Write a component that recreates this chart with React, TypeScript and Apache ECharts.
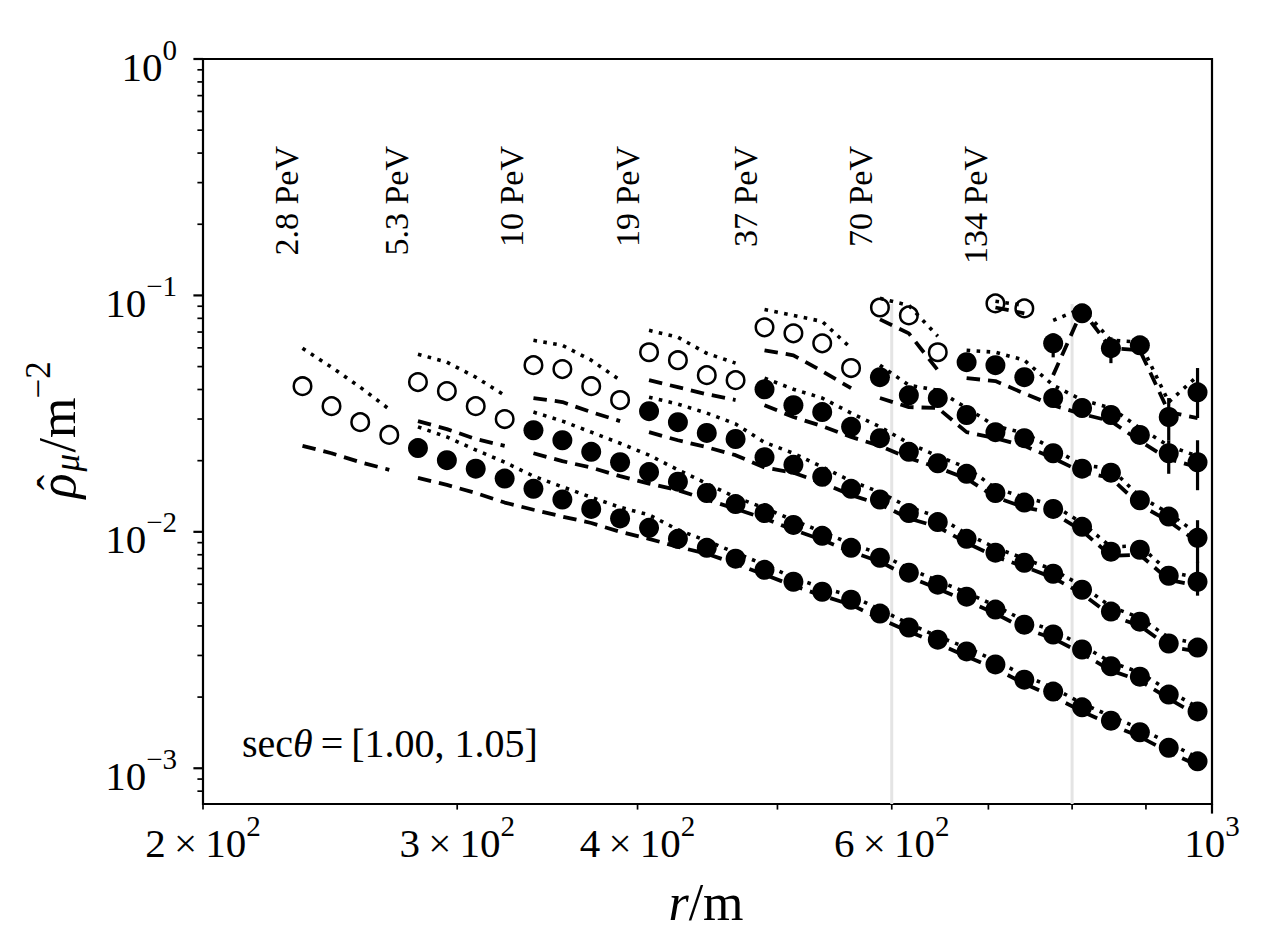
import React, { useEffect, useRef } from "react";
import * as echarts from "echarts";

// radial bin centres r [m]
const R = [
  234.4, 245.5, 257.0, 269.2, 281.8, 295.1, 309.0, 323.6, 338.8, 354.8, 371.5, 389.0, 407.4, 426.6, 446.7, 467.7,
  489.8, 512.9, 537.0, 562.3, 588.8, 616.6, 645.7, 676.1, 707.9, 741.3, 776.2, 812.8, 851.1, 891.3, 933.3, 977.2,
];

const ENERGY_LABELS = ["2.8 PeV", "5.3 PeV", "10 PeV", "19 PeV", "37 PeV", "70 PeV", "134 PeV"];
const LABEL_R = [228.6, 272.4, 327.3, 393.9, 474.9, 570.5, 685.4];
const START_IDX = [0, 4, 8, 12, 16, 20, 24];
const N_OPEN = [4, 4, 4, 4, 4, 3, 2];

// 2.8 PeV
const RHO_2P8 = [0.0413, 0.034, 0.0291, 0.0257, 0.0226, 0.0201, 0.0185, 0.0168, 0.0152, 0.0137, 0.0125, 0.0114, 0.0104, 0.00934, 0.00856, 0.0077, 0.00691, 0.00615, 0.00558, 0.00516, 0.00451, 0.00394, 0.0035, 0.00312, 0.00275, 0.00237, 0.00211, 0.00181, 0.00159, 0.00142, 0.00122, 0.00107];
const DOT_2P8 = [0.0598, 0.0497, 0.0409, 0.033, 0.0278, 0.0252, 0.0222, 0.0197, 0.0172, 0.0155, 0.014, 0.0127, 0.0118, 0.0102, 0.00916, 0.00816, 0.00726, 0.0064, 0.0058, 0.00537, 0.00469, 0.00409, 0.00361, 0.00324, 0.00285, 0.00247, 0.00219, 0.00188, 0.00166, 0.00147, 0.00128, 0.00111];
const DASH_2P8 = [0.0231, 0.0215, 0.0197, 0.0183, 0.0169, 0.0158, 0.0146, 0.0133, 0.0124, 0.0116, 0.0109, 0.01, 0.00934, 0.00864, 0.00808, 0.00733, 0.00659, 0.00592, 0.00537, 0.00492, 0.00429, 0.00379, 0.00337, 0.00297, 0.00264, 0.00228, 0.00201, 0.00174, 0.00153, 0.00136, 0.00117, 0.00103];
// 5.3 PeV
const RHO_5P3 = [0.043, 0.0394, 0.034, 0.03, 0.0269, 0.0244, 0.0218, 0.0197, 0.0179, 0.0163, 0.0146, 0.0131, 0.012, 0.0107, 0.00962, 0.00856, 0.00777, 0.00672, 0.00598, 0.00532, 0.00469, 0.00405, 0.00368, 0.00318, 0.0027, 0.00244, 0.00205, 0.00174];
const DOT_5P3 = [0.0564, 0.0522, 0.0451, 0.0378, 0.0321, 0.0294, 0.0264, 0.0237, 0.0211, 0.0183, 0.016, 0.014, 0.0126, 0.0112, 0.01, 0.0089, 0.00808, 0.00698, 0.00621, 0.00553, 0.00487, 0.00421, 0.00382, 0.00331, 0.00281, 0.00254, 0.00213, 0.00181];
const DASH_5P3 = [0.0294, 0.0272, 0.0247, 0.0231, 0.0215, 0.0199, 0.0187, 0.0172, 0.016, 0.015, 0.0137, 0.0125, 0.0114, 0.0102, 0.00925, 0.00824, 0.00748, 0.00646, 0.00575, 0.00511, 0.00451, 0.0039, 0.00354, 0.00306, 0.00259, 0.00235, 0.00197, 0.00167];
// 10 PeV
const RHO_10 = [0.0507, 0.0488, 0.0413, 0.0361, 0.0324, 0.0291, 0.0262, 0.0247, 0.0207, 0.0192, 0.0171, 0.0152, 0.0137, 0.012, 0.011, 0.00934, 0.00816, 0.0074, 0.00665, 0.00569, 0.0046, 0.00417, 0.00337, 0.00324];
const DOT_10 = [0.0646, 0.0615, 0.0532, 0.0438, 0.0371, 0.0347, 0.0318, 0.0286, 0.0239, 0.0215, 0.0188, 0.0164, 0.0147, 0.0127, 0.0116, 0.00981, 0.00856, 0.0077, 0.00691, 0.00592, 0.00482, 0.00433, 0.00357, 0.00337];
const DASH_10 = [0.0368, 0.0354, 0.0321, 0.0294, 0.0264, 0.0244, 0.0228, 0.0211, 0.0187, 0.0178, 0.0161, 0.0143, 0.0131, 0.0114, 0.0105, 0.00899, 0.00785, 0.00712, 0.0064, 0.00548, 0.00442, 0.00401, 0.00327, 0.00312];
// 19 PeV
const RHO_19 = [0.0575, 0.0532, 0.046, 0.0438, 0.0401, 0.0343, 0.0321, 0.0278, 0.0249, 0.0218, 0.0195, 0.0176, 0.0146, 0.0133, 0.0125, 0.0105, 0.00824, 0.0084, 0.00652, 0.00615];
const DOT_19 = [0.0712, 0.0665, 0.0569, 0.0517, 0.0447, 0.0401, 0.0368, 0.0318, 0.0278, 0.0237, 0.0209, 0.0187, 0.0153, 0.014, 0.013, 0.0109, 0.00864, 0.00873, 0.00678, 0.0064];
const DASH_19 = [0.0438, 0.0409, 0.0382, 0.0361, 0.0343, 0.0306, 0.028, 0.0252, 0.0231, 0.0205, 0.0187, 0.0168, 0.014, 0.0127, 0.012, 0.0101, 0.00792, 0.008, 0.00627, 0.00592];
// 37 PeV
const RHO_37 = [0.0733, 0.0691, 0.0627, 0.0493, 0.0451, 0.0378, 0.0368, 0.0312, 0.0264, 0.0249, 0.0215, 0.0185, 0.0178, 0.0136, 0.0116, 0.00943];
const DOT_37 = [0.0872, 0.0823, 0.0776, 0.0598, 0.0507, 0.0417, 0.0397, 0.0334, 0.028, 0.0262, 0.0224, 0.0192, 0.0185, 0.0141, 0.012, 0.00981];
const DASH_37 = [0.0586, 0.0558, 0.0478, 0.0405, 0.0368, 0.0337, 0.0334, 0.0264, 0.0249, 0.0231, 0.0205, 0.0179, 0.0169, 0.013, 0.0111, 0.00906];
// 70 PeV
const RHO_70 = [0.0889, 0.0823, 0.0575, 0.0522, 0.0507, 0.0451, 0.0368, 0.0334, 0.0312, 0.0257, 0.0215, 0.0197];
const DOT_70 = [0.0972, 0.0907, 0.0672, 0.0586, 0.0575, 0.0532, 0.0417, 0.0361, 0.0334, 0.0275, 0.0231, 0.0209];
const DASH_70 = [0.0792, 0.0691, 0.0483, 0.0447, 0.0434, 0.0385, 0.0343, 0.0315, 0.0294, 0.0242, 0.0203, 0.0188];
// 134 PeV
const RHO_134 = [0.0925, 0.0881, 0.0627, 0.084, 0.0598, 0.0615, 0.0306, 0.0389];
const DOT_134 = [0.0944, 0.0907, 0.0784, 0.0881, 0.0646, 0.0634, 0.0354, 0.0456];
const DASH_134 = [0.0889, 0.084, 0.046, 0.0864, 0.0598, 0.0586, 0.0321, 0.0303];

const RHO_SETS = [RHO_2P8, RHO_5P3, RHO_10, RHO_19, RHO_37, RHO_70, RHO_134];
const DOT_SETS = [DOT_2P8, DOT_5P3, DOT_10, DOT_19, DOT_37, DOT_70, DOT_134];
const DASH_SETS = [DASH_2P8, DASH_5P3, DASH_10, DASH_19, DASH_37, DASH_70, DASH_134];

// visible error bars
const ERR_IDX = [26, 28, 30, 31, 30, 31, 31, 31];
const ERR_LO = [0.0547, 0.0517, 0.0244, 0.0303, 0.0176, 0.015, 0.0074, 0.00537];
const ERR_HI = [0.0691, 0.0665, 0.0368, 0.0493, 0.0244, 0.0244, 0.0112, 0.00748];

// grey reference radii
const VLINE_R = [600, 800];
const VLINE_TOP = 0.092;

const X_MIN = 200;
const X_MAX = 1000;
const Y_MIN = 0.000706;
const Y_MAX = 1;

const X_LABEL_VALUES = [200, 300, 400, 600, 1000];
const X_LABEL_TEXTS = [
  "{b|2\u2009\u00d7\u200910}{s|2}",
  "{b|3\u2009\u00d7\u200910}{s|2}",
  "{b|4\u2009\u00d7\u200910}{s|2}",
  "{b|6\u2009\u00d7\u200910}{s|2}",
  "{b|10}{s|3}",
];
const X_MINOR = [200, 300, 400, 500, 600, 700, 800, 900];
const X_MAJOR = [1000];
const Y_MAJOR = [1, 0.1, 0.01, 0.001];
const Y_LABEL_TEXTS = ["{b|10}{s|0}", "{b|10}{s|\u22121}", "{b|10}{s|\u22122}", "{b|10}{s|\u22123}"];

const FONT = '"Liberation Serif", "Times New Roman", serif';

function txt(opts: any) {
  const { x, y, text, fontSize, align, vAlign, rotation, rich, fontStyle } = opts;
  return {
    type: "text",
    x,
    y,
    rotation: rotation || 0,
    z: 50,
    silent: true,
    style: {
      text,
      fill: "#000",
      fontFamily: FONT,
      fontSize,
      fontStyle: fontStyle || "normal",
      align,
      textAlign: align,
      verticalAlign: vAlign,
      textVerticalAlign: vAlign,
      rich,
    },
  };
}

export default function App() {
  const ref = useRef<HTMLDivElement>(null);

  useEffect(() => {
    const el = ref.current;
    if (!el) return;
    const chart = echarts.init(el, undefined, { renderer: "svg" });

    const series: any[] = [];
    VLINE_R.forEach((r) => {
      series.push({
        type: "line",
        data: [
          [r, Y_MIN],
          [r, VLINE_TOP],
        ],
        symbol: "none",
        silent: true,
        lineStyle: { color: "#e4e4e4", width: 3, opacity: 1 },
        z: 1,
      });
    });

    const DOTTED = [3.6, 6.4];
    const DASHED = [13.5, 8];
    const lineS = (data: any[], dash: number[], w: number) => ({
      type: "line",
      data,
      symbol: "none",
      silent: true,
      lineStyle: { color: "#000", width: w, type: dash, cap: "butt", opacity: 1 },
      z: 3,
    });

    RHO_SETS.forEach((rho, k) => {
      const s = START_IDX[k];
      const n = N_OPEN[k];
      const pts = rho.map((v, j) => [R[s + j], v]);
      const dots = DOT_SETS[k].map((v, j) => [R[s + j], v]);
      const dashes = DASH_SETS[k].map((v, j) => [R[s + j], v]);
      series.push(lineS(dots.slice(0, n), DOTTED, 3.6));
      series.push(lineS(dots.slice(n), DOTTED, 3.6));
      series.push(lineS(dashes.slice(0, n), DASHED, 3.8));
      series.push(lineS(dashes.slice(n), DASHED, 3.8));
      series.push({
        type: "scatter",
        data: pts.slice(0, n),
        symbol: "circle",
        symbolSize: 17.5,
        silent: true,
        itemStyle: { color: "rgba(255,255,255,0)", borderColor: "#000", borderWidth: 2.5, opacity: 1 },
        z: 4,
      });
      series.push({
        type: "scatter",
        data: pts.slice(n),
        symbol: "circle",
        symbolSize: 20,
        silent: true,
        itemStyle: { color: "#000", opacity: 1 },
        z: 4,
      });
    });

    series.push({
      type: "custom",
      silent: true,
      z: 5,
      data: ERR_IDX.map((i, j) => [R[i], ERR_LO[j], ERR_HI[j]]),
      encode: { x: 0, y: [1, 2] },
      renderItem: (params: any, api: any) => {
        const p1 = api.coord([api.value(0), api.value(1)]);
        const p2 = api.coord([api.value(0), api.value(2)]);
        return {
          type: "line",
          shape: { x1: p1[0], y1: p1[1], x2: p2[0], y2: p2[1] },
          style: { stroke: "#000", lineWidth: 3.2 },
        };
      },
    });

    chart.setOption({
      animation: false,
      backgroundColor: "#ffffff",
      grid: {
        left: 203,
        right: 61,
        top: 59,
        bottom: 146,
        show: true,
        borderColor: "#000",
        borderWidth: 2.2,
        backgroundColor: "transparent",
        containLabel: false,
      },
      xAxis: {
        type: "log",
        logBase: 10,
        min: X_MIN,
        max: X_MAX,
        axisLine: { show: false },
        axisTick: { show: false },
        axisLabel: { show: false },
        splitLine: { show: false },
        minorTick: { show: false },
      },
      yAxis: {
        type: "log",
        logBase: 10,
        min: Y_MIN,
        max: Y_MAX,
        axisLine: { show: false },
        axisTick: { show: false },
        axisLabel: { show: false },
        splitLine: { show: false },
        minorTick: { show: false },
      },
      series,
    });

    const px = (x: number, y: number) => chart.convertToPixel({ gridIndex: 0 }, [x, y]) as number[];
    const bottomY = px(X_MIN, Y_MIN)[1];
    const leftX = px(X_MIN, Y_MIN)[0];
    const topY = px(X_MIN, Y_MAX)[1];

    const g: any[] = [];
    const tick = (x1: number, y1: number, x2: number, y2: number, w: number) =>
      g.push({ type: "line", z: 40, silent: true, shape: { x1, y1, x2, y2 }, style: { stroke: "#000", lineWidth: w } });

    X_MINOR.forEach((v) => {
      const x = px(v, Y_MIN)[0];
      tick(x, bottomY, x, bottomY + 5.6, 1.7);
    });
    X_MAJOR.forEach((v) => {
      const x = px(v, Y_MIN)[0];
      tick(x, bottomY, x, bottomY + 9.6, 2.2);
    });
    Y_MAJOR.forEach((v) => {
      const y = px(X_MIN, v)[1];
      tick(leftX - 9.6, y, leftX, y, 2.2);
    });
    [0.1, 0.01, 0.001, 0.0001].forEach((dec) => {
      for (let m = 2; m <= 9; m++) {
        const v = m * dec;
        if (v <= Y_MIN || v >= Y_MAX) continue;
        const y = px(X_MIN, v)[1];
        tick(leftX - 5.6, y, leftX, y, 1.7);
      }
    });

    const tickRich = {
      b: { fontSize: 41, lineHeight: 52, verticalAlign: "bottom", fontFamily: FONT, fill: "#000", color: "#000" },
      s: { fontSize: 29, lineHeight: 29, verticalAlign: "top", fontFamily: FONT, fill: "#000", color: "#000" },
    };
    X_LABEL_VALUES.forEach((v, i) => {
      const x = px(v, Y_MIN)[0];
      g.push(txt({ x, y: 811, text: X_LABEL_TEXTS[i], fontSize: 41, align: "center", vAlign: "top", rich: tickRich }));
    });
    Y_MAJOR.forEach((v, i) => {
      const y = px(X_MIN, v)[1];
      g.push(txt({ x: 177, y: y - 24, text: Y_LABEL_TEXTS[i], fontSize: 41, align: "right", vAlign: "top", rich: tickRich }));
    });

    // energy labels
    ENERGY_LABELS.forEach((lab, k) => {
      const x = px(LABEL_R[k], Y_MIN)[0];
      g.push(txt({ x, y: 146, text: lab, fontSize: 34, align: "right", vAlign: "middle", rotation: Math.PI / 2 }));
    });

    // x title
    g.push(
      txt({
        x: 706,
        y: 902,
        text: "{i|r}{n|/m}",
        fontSize: 52,
        align: "center",
        vAlign: "middle",
        rich: {
          i: { fontSize: 52, fontStyle: "italic", fontFamily: FONT, fill: "#000", color: "#000" },
          n: { fontSize: 52, fontFamily: FONT, fill: "#000", color: "#000" },
        },
      })
    );

    // y title: rotated group, centred on the axis
    const yMid = (topY + bottomY) / 2;
    const part = (x: number, y: number, text: string, fontSize: number, fontStyle: string, align = "left") => ({
      type: "text",
      x,
      y,
      silent: true,
      style: {
        text,
        fill: "#000",
        fontFamily: FONT,
        fontSize,
        fontStyle,
        align,
        textAlign: align,
        verticalAlign: "middle",
        textVerticalAlign: "middle",
      },
    });
    g.push({
      type: "group",
      x: 57,
      y: yMid,
      rotation: Math.PI / 2,
      z: 50,
      children: [
        part(-67, 0, "\u03c1", 52, "italic"),
        part(-51, -3, "\u02c6", 46, "normal", "center"),
        part(-40, 10, "\u03bc", 35, "italic"),
        part(-21, 0, "/m", 52, "normal"),
        part(33, -19, "\u22122", 35, "normal"),
      ],
    });

    // annotation
    g.push(
      txt({
        x: 242,
        y: 743,
        text: "{n|sec}{i|\u03b8}{n|\u2009=\u2009[1.00, 1.05]}",
        fontSize: 40,
        align: "left",
        vAlign: "middle",
        rich: {
          i: { fontSize: 40, fontStyle: "italic", fontFamily: FONT, fill: "#000", color: "#000" },
          n: { fontSize: 40, fontFamily: FONT, fill: "#000", color: "#000" },
        },
      })
    );

    chart.setOption({ graphic: { elements: g } });

    return () => {
      chart.dispose();
    };
  }, []);

  return (
    <div
      ref={ref}
      style={{ position: "fixed", left: 0, top: 0, width: "1273px", height: "950px", background: "#fff" }}
    />
  );
}
